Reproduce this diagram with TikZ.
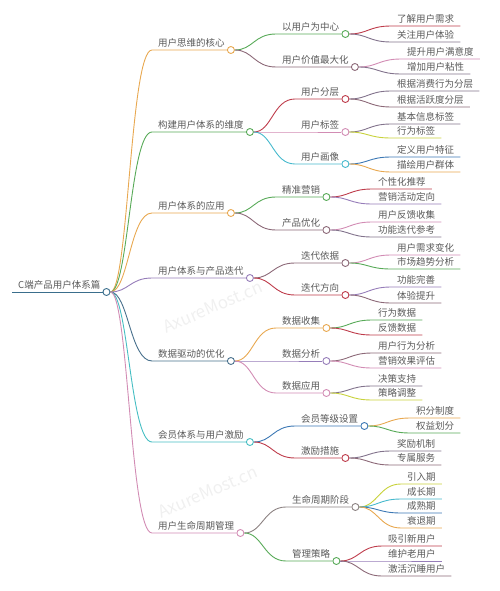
\documentclass[tikz,border=0pt]{standalone}
\usepackage{fontspec}
\setmainfont{Noto Sans CJK SC}
\definecolor{mm_text}{RGB}{90, 90, 90}
\definecolor{mm_root}{RGB}{58, 110, 140}
\definecolor{mm_orange}{RGB}{232, 168, 80}
\definecolor{mm_green}{RGB}{88, 170, 88}
\definecolor{mm_purple}{RGB}{150, 125, 185}
\definecolor{mm_steel}{RGB}{72, 112, 140}
\definecolor{mm_teal}{RGB}{70, 190, 195}
\definecolor{mm_pink}{RGB}{210, 140, 180}
\definecolor{mm_red}{RGB}{190, 60, 75}
\definecolor{mm_brown}{RGB}{140, 105, 120}
\definecolor{mm_grayp}{RGB}{130, 115, 140}
\definecolor{mm_yellow}{RGB}{200, 210, 60}
\definecolor{mm_blue}{RGB}{60, 120, 180}
\definecolor{mm_cyan}{RGB}{70, 185, 205}
\definecolor{mm_gray}{RGB}{140, 130, 130}
\tikzstyle{lbl}=[anchor=south west,inner xsep=6pt,inner ysep=3pt,text depth=0pt,
  font=\fontsize{9.5}{11}\selectfont,text=mm_text]
\tikzstyle{dot}=[circle,fill=white,line width=0.9pt,inner sep=0pt,minimum size=7pt]
\tikzstyle{br}=[line width=0.9pt,
  to path={.. controls +(22,0) and +(-22,0) .. (\tikztotarget) \tikztonodes}]
\tikzstyle{wm}=[text=black!6,font=\fontsize{17}{17}\selectfont,rotate=23]

\begin{document}
\begin{tikzpicture}[x=1pt,y=-1pt]
            \useasboundingbox (0,0) rectangle (500,591);
            \node [style=wm] (w1) at (213, 307) {AxureMost.cn};
            \node [style=wm] (w2) at (208, 492) {AxureMost.cn};
            % root
            \node [style=lbl] (0) at (12, 292) {C端产品用户体系篇};
            \node [style=dot,draw=mm_root] (0o) at (0.south east) {};
            % first level
            \node [style=lbl] (1) at (152, 50) {用户思维的核心};
            \node [style=dot,draw=mm_orange] (1o) at (1.south east) {};
            \node [style=lbl] (2) at (152, 132) {构建用户体系的维度};
            \node [style=dot,draw=mm_green] (2o) at (2.south east) {};
            \node [style=lbl] (3) at (152, 213) {用户体系的应用};
            \node [style=dot,draw=mm_orange] (3o) at (3.south east) {};
            \node [style=lbl] (4) at (152, 278) {用户体系与产品迭代};
            \node [style=dot,draw=mm_purple] (4o) at (4.south east) {};
            \node [style=lbl] (5) at (152, 361) {数据驱动的优化};
            \node [style=dot,draw=mm_steel] (5o) at (5.south east) {};
            \node [style=lbl] (6) at (152, 442) {会员体系与用户激励};
            \node [style=dot,draw=mm_teal] (6o) at (6.south east) {};
            \node [style=lbl] (7) at (152, 533) {用户生命周期管理};
            \node [style=dot,draw=mm_pink] (7o) at (7.south east) {};
            % second level
            \node [style=lbl] (11) at (276, 34) {以用户为中心};
            \node [style=dot,draw=mm_green] (11o) at (11.south east) {};
            \node [style=lbl] (12) at (276, 67) {用户价值最大化};
            \node [style=dot,draw=mm_brown] (12o) at (12.south east) {};
            \node [style=lbl] (21) at (295, 99) {用户分层};
            \node [style=dot,draw=mm_red] (21o) at (21.south east) {};
            \node [style=lbl] (22) at (295, 132) {用户标签};
            \node [style=dot,draw=mm_pink] (22o) at (22.south east) {};
            \node [style=lbl] (23) at (295, 164) {用户画像};
            \node [style=dot,draw=mm_cyan] (23o) at (23.south east) {};
            \node [style=lbl] (31) at (276, 197) {精准营销};
            \node [style=dot,draw=mm_green] (31o) at (31.south east) {};
            \node [style=lbl] (32) at (276, 230) {产品优化};
            \node [style=dot,draw=mm_brown] (32o) at (32.south east) {};
            \node [style=lbl] (41) at (295, 263) {迭代依据};
            \node [style=dot,draw=mm_brown] (41o) at (41.south east) {};
            \node [style=lbl] (42) at (295, 295) {迭代方向};
            \node [style=dot,draw=mm_red] (42o) at (42.south east) {};
            \node [style=lbl] (51) at (276, 328) {数据收集};
            \node [style=dot,draw=mm_orange] (51o) at (51.south east) {};
            \node [style=lbl] (52) at (276, 361) {数据分析};
            \node [style=dot,draw=mm_purple] (52o) at (52.south east) {};
            \node [style=lbl] (53) at (276, 393) {数据应用};
            \node [style=dot,draw=mm_pink] (53o) at (53.south east) {};
            \node [style=lbl] (61) at (295, 426) {会员等级设置};
            \node [style=dot,draw=mm_blue] (61o) at (61.south east) {};
            \node [style=lbl] (62) at (295, 458) {激励措施};
            \node [style=dot,draw=mm_red] (62o) at (62.south east) {};
            \node [style=lbl] (71) at (286, 507) {生命周期阶段};
            \node [style=dot,draw=mm_gray] (71o) at (71.south east) {};
            \node [style=lbl] (72) at (286, 561) {管理策略};
            \node [style=dot,draw=mm_green] (72o) at (72.south east) {};
            % leaves
            \node [style=lbl] (111) at (391, 26) {了解用户需求};
            \node [style=lbl] (112) at (391, 42) {关注用户体验};
            \node [style=lbl] (121) at (401, 59) {提升用户满意度};
            \node [style=lbl] (122) at (401, 74) {增加用户粘性};
            \node [style=lbl] (211) at (391, 91) {根据消费行为分层};
            \node [style=lbl] (212) at (391, 107) {根据活跃度分层};
            \node [style=lbl] (221) at (391, 124) {基本信息标签};
            \node [style=lbl] (222) at (391, 138) {行为标签};
            \node [style=lbl] (231) at (391, 157) {定义用户特征};
            \node [style=lbl] (232) at (391, 172) {描绘用户群体};
            \node [style=lbl] (311) at (372, 189) {个性化推荐};
            \node [style=lbl] (312) at (372, 204) {营销活动定向};
            \node [style=lbl] (321) at (372, 222) {用户反馈收集};
            \node [style=lbl] (322) at (372, 237) {功能迭代参考};
            \node [style=lbl] (411) at (391, 255) {用户需求变化};
            \node [style=lbl] (412) at (391, 269) {市场趋势分析};
            \node [style=lbl] (421) at (391, 287) {功能完善};
            \node [style=lbl] (422) at (391, 303) {体验提升};
            \node [style=lbl] (511) at (372, 320) {行为数据};
            \node [style=lbl] (512) at (372, 335) {反馈数据};
            \node [style=lbl] (521) at (372, 353) {用户行为分析};
            \node [style=lbl] (522) at (372, 368) {营销效果评估};
            \node [style=lbl] (531) at (372, 386) {决策支持};
            \node [style=lbl] (532) at (372, 400) {策略调整};
            \node [style=lbl] (611) at (410, 418) {积分制度};
            \node [style=lbl] (612) at (410, 433) {权益划分};
            \node [style=lbl] (621) at (391, 451) {奖励机制};
            \node [style=lbl] (622) at (391, 465) {专属服务};
            \node [style=lbl] (711) at (401, 484) {引入期};
            \node [style=lbl] (712) at (401, 499) {成长期};
            \node [style=lbl] (713) at (401, 513) {成熟期};
            \node [style=lbl] (714) at (401, 528) {衰退期};
            \node [style=lbl] (721) at (382, 546) {吸引新用户};
            \node [style=lbl] (722) at (382, 561) {维护老用户};
            \node [style=lbl] (723) at (382, 576) {激活沉睡用户};
            % connectors
            \draw [style=mm_root,line width=0.9pt] (0.south west) to (0o);
            \draw [style=br,mm_orange] (0o) to (1.south west) -- (1o);
            \draw [style=br,mm_green] (0o) to (2.south west) -- (2o);
            \draw [style=br,mm_orange] (0o) to (3.south west) -- (3o);
            \draw [style=br,mm_purple] (0o) to (4.south west) -- (4o);
            \draw [style=br,mm_steel] (0o) to (5.south west) -- (5o);
            \draw [style=br,mm_teal] (0o) to (6.south west) -- (6o);
            \draw [style=br,mm_pink] (0o) to (7.south west) -- (7o);
            \draw [style=br,mm_green] (1o) to (11.south west) -- (11o);
            \draw [style=br,mm_brown] (1o) to (12.south west) -- (12o);
            \draw [style=br,mm_red] (2o) to (21.south west) -- (21o);
            \draw [style=br,mm_pink] (2o) to (22.south west) -- (22o);
            \draw [style=br,mm_cyan] (2o) to (23.south west) -- (23o);
            \draw [style=br,mm_green] (3o) to (31.south west) -- (31o);
            \draw [style=br,mm_brown] (3o) to (32.south west) -- (32o);
            \draw [style=br,mm_brown] (4o) to (41.south west) -- (41o);
            \draw [style=br,mm_red] (4o) to (42.south west) -- (42o);
            \draw [style=br,mm_orange] (5o) to (51.south west) -- (51o);
            \draw [style=br,mm_purple] (5o) to (52.south west) -- (52o);
            \draw [style=br,mm_pink] (5o) to (53.south west) -- (53o);
            \draw [style=br,mm_blue] (6o) to (61.south west) -- (61o);
            \draw [style=br,mm_red] (6o) to (62.south west) -- (62o);
            \draw [style=br,mm_gray] (7o) to (71.south west) -- (71o);
            \draw [style=br,mm_green] (7o) to (72.south west) -- (72o);
            \draw [style=br,mm_red] (11o) to (111.south west) -- (111.south east);
            \draw [style=br,mm_grayp] (11o) to (112.south west) -- (112.south east);
            \draw [style=br,mm_pink] (12o) to (121.south west) -- (121.south east);
            \draw [style=br,mm_grayp] (12o) to (122.south west) -- (122.south east);
            \draw [style=br,mm_grayp] (21o) to (211.south west) -- (211.south east);
            \draw [style=br,mm_brown] (21o) to (212.south west) -- (212.south east);
            \draw [style=br,mm_grayp] (22o) to (221.south west) -- (221.south east);
            \draw [style=br,mm_yellow] (22o) to (222.south west) -- (222.south east);
            \draw [style=br,mm_blue] (23o) to (231.south west) -- (231.south east);
            \draw [style=br,mm_orange] (23o) to (232.south west) -- (232.south east);
            \draw [style=br,mm_red] (31o) to (311.south west) -- (311.south east);
            \draw [style=br,mm_purple] (31o) to (312.south west) -- (312.south east);
            \draw [style=br,mm_pink] (32o) to (321.south west) -- (321.south east);
            \draw [style=br,mm_grayp] (32o) to (322.south west) -- (322.south east);
            \draw [style=br,mm_pink] (41o) to (411.south west) -- (411.south east);
            \draw [style=br,mm_green] (41o) to (412.south west) -- (412.south east);
            \draw [style=br,mm_purple] (42o) to (421.south west) -- (421.south east);
            \draw [style=br,mm_brown] (42o) to (422.south west) -- (422.south east);
            \draw [style=br,mm_green] (51o) to (511.south west) -- (511.south east);
            \draw [style=br,mm_red] (51o) to (512.south west) -- (512.south east);
            \draw [style=br,mm_brown] (52o) to (521.south west) -- (521.south east);
            \draw [style=br,mm_pink] (52o) to (522.south west) -- (522.south east);
            \draw [style=br,mm_grayp] (53o) to (531.south west) -- (531.south east);
            \draw [style=br,mm_yellow] (53o) to (532.south west) -- (532.south east);
            \draw [style=br,mm_orange] (61o) to (611.south west) -- (611.south east);
            \draw [style=br,mm_green] (61o) to (612.south west) -- (612.south east);
            \draw [style=br,mm_grayp] (62o) to (621.south west) -- (621.south east);
            \draw [style=br,mm_brown] (62o) to (622.south west) -- (622.south east);
            \draw [style=br,mm_yellow] (71o) to (711.south west) -- (711.south east);
            \draw [style=br,mm_cyan] (71o) to (712.south west) -- (712.south east);
            \draw [style=br,mm_blue] (71o) to (713.south west) -- (713.south east);
            \draw [style=br,mm_orange] (71o) to (714.south west) -- (714.south east);
            \draw [style=br,mm_red] (72o) to (721.south west) -- (721.south east);
            \draw [style=br,mm_purple] (72o) to (722.south west) -- (722.south east);
            \draw [style=br,mm_brown] (72o) to (723.south west) -- (723.south east);
    \end{tikzpicture}
\end{document}
